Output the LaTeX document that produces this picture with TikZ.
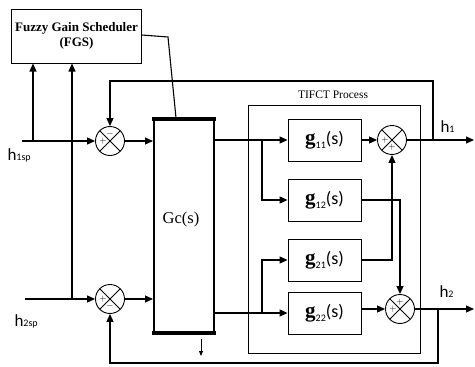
\documentclass[tikz,border=0pt]{standalone}
\usepackage{fontspec}
\setmainfont{Liberation Serif}
\newfontfamily\carl{Carlito}
\usetikzlibrary{arrows.meta,calc}
\newcommand{\glab}[1]{{\fontsize{21}{21}\selectfont\bfseries g}\raisebox{-4pt}{\carl\fontsize{10}{10}\selectfont #1}{\carl\fontsize{18}{18}\selectfont (s)}}
\newcommand{\hlabel}[1]{{\fontsize{17}{17}\selectfont h}{\fontsize{10}{10}\selectfont #1}}
\begin{document}
\begin{tikzpicture}[x=1pt,y=-1pt, >={Triangle[length=8pt,width=7pt]}, line width=1.1pt,
 blk/.style={draw, line width=0.9pt, minimum width=73pt, minimum height=42pt, inner sep=0pt},
 sumn/.style={draw, circle, line width=0.9pt, minimum size=29pt, inner sep=0pt,
   path picture={\draw[line width=0.8pt] (path picture bounding box.north east)--(path picture bounding box.south west) (path picture bounding box.north west)--(path picture bounding box.south east);}},
 sgn/.style={inner sep=0pt, font=\fontsize{9}{9}\selectfont\bfseries},
 hlab/.style={inner sep=0pt, font=\carl}]
\useasboundingbox (0,0) rectangle (475,367);

% blocks
\node[draw, line width=1pt, minimum width=129pt, minimum height=54pt, align=center,
  font=\bfseries\fontsize{13}{15}\selectfont] (fgs) at (76.5,36) {Fuzzy Gain Scheduler\\(FGS)};
\node[sumn] (S1) at (110,141) {};
\node[sumn] (S2) at (110,299) {};
\node[draw, line width=2pt, minimum width=60pt, minimum height=212pt, inner sep=0pt] (gc) at (184,226) {};
\draw[line width=4pt] ([xshift=-1pt]gc.north west) -- ([xshift=1pt]gc.north east);
\draw[line width=4pt] ([xshift=-1pt]gc.south west) -- ([xshift=1pt]gc.south east);
\node[inner sep=0pt, font=\fontsize{16.5}{17}\selectfont] (gct) at (181,220) {Gc(s)};

\node[draw, line width=1pt, minimum width=172pt, minimum height=248pt, inner sep=0pt] (proc) at (334,229) {};
\node[inner sep=0pt, font=\fontsize{11.5}{12}\selectfont] (proct) at (333,95) {TIFCT Process};

\node[blk] (g11) at (324.5,140) {\glab{11}};
\node[blk] (g12) at (324.5,200) {\glab{12}};
\node[blk] (g21) at (324.5,260) {\glab{21}};
\node[blk] (g22) at (324.5,313) {\glab{22}};
\node[sumn] (S3) at (392,140) {};
\node[sumn] (S4) at (400,309) {};

% signs
\node[sgn] (s1t) at ([yshift=7pt]S1.center) {$-$};
\node[sgn] (s1l) at ([xshift=-7pt]S1.center) {$+$};
\node[sgn] (s2l) at ([xshift=-7pt]S2.center) {$+$};
\node[sgn] (s2b) at ([yshift=-7pt]S2.center) {$-$};
\node[sgn] (s3l) at ([xshift=-7pt]S3.center) {$+$};
\node[sgn] (s3b) at ([yshift=-7pt]S3.center) {$+$};
\node[sgn] (s4t) at ([yshift=7pt]S4.center) {$+$};
\node[sgn] (s4l) at ([xshift=-7pt]S4.center) {$+$};

% labels
\node[hlab, anchor=west] (h1sp) at (7,155) {\hlabel{1sp}};
\node[hlab, anchor=west] (h2sp) at (14,321) {\hlabel{2sp}};
\node[hlab, anchor=west] (h1) at (440,127) {\hlabel{1}};
\node[hlab, anchor=west] (h2) at (439,292) {\hlabel{2}};

% coordinates
\coordinate (h1in) at (22,141);
\coordinate (b1) at (33,141);
\coordinate (h2in) at (25,299);
\coordinate (b2) at (72,299);
\coordinate (fk) at (168,37);
\coordinate (gtop) at (176,118);
\coordinate (br1) at (262,140);
\coordinate (br2) at (262,313);
\coordinate (h1o) at (474,140);
\coordinate (f1) at (433,140);
\coordinate (f1t) at (433,81);
\coordinate (h2o) at (474,309);
\coordinate (f2) at (438,309);
\coordinate (f2b) at (438,363);
\coordinate (sa) at (201,339);
\coordinate (sb) at (201,356);

% connectors
\draw[->] (h1in) -- (S1);
\draw[->] (b1) -- (b1 |- fgs.south);
\draw[->] (h2in) -- (S2);
\draw[->] (b2) -- (b2 |- fgs.south);
\draw[->] (S1) -- (S1 -| gc.west);
\draw[->] (S2) -- (S2 -| gc.west);
\draw ([yshift=1pt]fgs.east) -- (fk) -- (gtop);
\draw[->] (gc.east |- g11) -- (g11.west);
\draw[->] (br1) |- (g12.west);
\draw[->] (gc.east |- g22) -- (g22.west);
\draw[->] (br2) |- (g21.west);
\draw[->] (g11) -- (S3);
\draw[->] (g12.east) -| (S4.north);
\draw[->] (g21.east) -| (S3.south);
\draw[->] (g22.east |- S4) -- (S4);
\draw[->] (S3) -- (h1o);
\draw[->] (f1) -- (f1t) -| (S1.north);
\draw[->] (S4) -- (h2o);
\draw[->] (f2) -- (f2b) -| (S2.south);
\draw[->, line width=0.9pt, >={Triangle[length=5pt,width=4pt]}] (sa) -- (sb);
\end{tikzpicture}
\end{document}
